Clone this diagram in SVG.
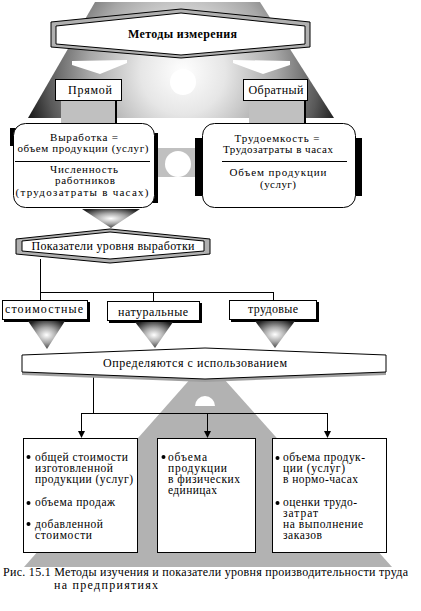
<svg xmlns="http://www.w3.org/2000/svg" width="421" height="611" viewBox="0 0 421 611" font-family="'Liberation Serif', 'Times New Roman', serif">
<defs>
<style>
.t{font-family:'Liberation Serif','Times New Roman',serif;font-size:12px;fill:#000}
.m{font-size:11px}
.s{font-size:11.5px}
.c{text-anchor:middle}
.b{font-weight:bold}
.box{fill:#fff;stroke:#000;stroke-width:1}
.ln{stroke:#000;stroke-width:1;fill:none}
.gray{fill:#c0c0c0}
.fun{fill:url(#gFun)}
.dot{fill:#000}
</style>
<radialGradient id="gTop" gradientUnits="userSpaceOnUse" cx="183" cy="72" r="170">
<stop offset="0" stop-color="#ffffff"/>
<stop offset="0.25" stop-color="#e6e6e6"/>
<stop offset="0.55" stop-color="#a8a8a8"/>
<stop offset="0.8" stop-color="#585858"/>
<stop offset="1" stop-color="#000000"/>
</radialGradient>
<radialGradient id="gFun" cx="0.5" cy="0.5" r="0.6">
<stop offset="0" stop-color="#ffffff"/>
<stop offset="0.45" stop-color="#a8a8a8"/>
<stop offset="1" stop-color="#202020"/>
</radialGradient>
<marker id="ah" markerUnits="userSpaceOnUse" markerWidth="7" markerHeight="7" refX="6" refY="3.5" orient="auto">
<path d="M0,0 L7,3.5 L0,7 z" fill="#000"/>
</marker>
</defs>

<g id="backdrop">
<polygon points="95,2 260,2 334,118 28,118" fill="url(#gTop)"/>
<polygon points="72,61 127,60 127,63 100,74 72,65" fill="#fff"/>
<polygon points="233,60 290,61 290,65 263,74 233,63" fill="#fff"/>
<circle cx="183" cy="82" r="13" fill="#fff"/>
<polygon points="207,360 392,567 24,567" fill="#b2b2b2"/>
<path d="M195,406 A10,10 0 0 1 215,406 Z" fill="#fff"/>
</g>

<g id="title">
<polygon points="51,22 181,9 310,22 310,47 181,58 51,47" fill="#b0b0b0" stroke="#000"/>
<polygon points="56,26 181,13 305,26 305,44 181,55 56,44" fill="#fff" stroke="#000"/>
<text class="t b c" x="182.5" y="38" font-size="13" textLength="109" lengthAdjust="spacing">Методы измерения</text>
</g>

<g id="direct">
<rect class="gray" x="61" y="100" width="55" height="23"/>
<line x1="116" y1="100" x2="116" y2="123" stroke="#000" stroke-width="2"/>
<rect class="box" x="55.5" y="79.5" width="66" height="21"/>
<text class="t c" x="90" y="94" textLength="44" lengthAdjust="spacing">Прямой</text>
</g>

<g id="inverse">
<rect class="gray" x="249" y="100" width="56" height="23"/>
<line x1="305" y1="100" x2="305" y2="123" stroke="#000" stroke-width="2"/>
<rect class="box" x="243.5" y="79.5" width="64" height="21"/>
<text class="t c" x="276" y="94" textLength="55" lengthAdjust="spacing">Обратный</text>
</g>

<g id="link">
<rect class="gray" x="150" y="148" width="55" height="29"/>
<circle cx="178" cy="164" r="13" fill="#fff"/>
</g>

<g id="output-formula">
<rect x="10" y="128" width="6" height="18" fill="#000"/>
<rect x="152" y="133" width="6" height="70" fill="#000"/>
<rect class="box" x="13.5" y="123.5" width="141" height="84" rx="12" ry="12"/>
<text class="t m c" x="84" y="141" textLength="68" lengthAdjust="spacing">Выработка =</text>
<text class="t m c" x="83" y="152" textLength="131" lengthAdjust="spacing">объем продукции (услуг)</text>
<line class="ln" x1="15" y1="161.5" x2="150" y2="161.5"/>
<text class="t m c" x="84" y="173" textLength="68" lengthAdjust="spacing">Численность</text>
<text class="t m c" x="85" y="184" textLength="60" lengthAdjust="spacing">работников</text>
<text class="t m c" x="82" y="195.5" textLength="133" lengthAdjust="spacing">(трудозатраты в часах)</text>
</g>

<g id="labor-formula">
<rect x="195" y="138" width="167" height="58" fill="#000"/>
<rect class="box" x="202.5" y="123.5" width="153" height="84" rx="12" ry="12"/>
<text class="t m c" x="277" y="142" textLength="85" lengthAdjust="spacing">Трудоемкость =</text>
<text class="t m c" x="278" y="153" textLength="110" lengthAdjust="spacing">Трудозатраты в часах</text>
<line class="ln" x1="222" y1="161.5" x2="347" y2="161.5"/>
<text class="t m c" x="278" y="176" textLength="97" lengthAdjust="spacing">Объем продукции</text>
<text class="t m c" x="278" y="188" textLength="36" lengthAdjust="spacing">(услуг)</text>
</g>

<g id="funnel-top">
<polygon class="fun" points="82,209 140,209 111,228"/>
</g>

<g id="indicators">
<polygon points="16,239 110,229 210,239 210,254 110,263 16,254" fill="#b0b0b0" stroke="#000"/>
<polygon points="22,241 110,232 204,241 204,251 110,259 22,251" fill="#fff" stroke="#000"/>
<text class="t c" x="113" y="250" textLength="163" lengthAdjust="spacing">Показатели уровня выработки</text>
</g>

<g id="connectors">
<polyline class="ln" points="40.5,259 40.5,292.5 273.5,292.5"/>
<line class="ln" x1="40.5" y1="292" x2="40.5" y2="300"/>
<line class="ln" x1="153.5" y1="292" x2="153.5" y2="301"/>
<line class="ln" x1="273.5" y1="292" x2="273.5" y2="300"/>
<line class="ln" x1="93.5" y1="377" x2="93.5" y2="413.5"/>
<line class="ln" x1="81" y1="413.5" x2="328" y2="413.5"/>
<line class="ln" x1="81.5" y1="413" x2="81.5" y2="437" marker-end="url(#ah)"/>
<line class="ln" x1="207.5" y1="413" x2="207.5" y2="437" marker-end="url(#ah)"/>
<line class="ln" x1="327.5" y1="413" x2="327.5" y2="437" marker-end="url(#ah)"/>
</g>

<g id="cost">
<rect x="4" y="302" width="86" height="20" fill="#000"/>
<rect class="box" x="2.5" y="300.5" width="85" height="19"/>
<text class="t c" x="44" y="313" textLength="78" lengthAdjust="spacing">стоимостные</text>
<polygon class="fun" points="28,321 65,321 47,349"/>
</g>

<g id="natural">
<rect x="109" y="303" width="93" height="20" fill="#000"/>
<rect class="box" x="107.5" y="301.5" width="92" height="19"/>
<text class="t c" x="153" y="316" textLength="70" lengthAdjust="spacing">натуральные</text>
<polygon class="fun" points="135,322 173,322 155,348"/>
</g>

<g id="labor">
<rect x="231" y="302" width="88" height="20" fill="#000"/>
<rect class="box" x="229.5" y="300.5" width="87" height="19"/>
<text class="t c" x="273" y="313" textLength="50" lengthAdjust="spacing">трудовые</text>
<polygon class="fun" points="255,321 295,321 275,348"/>
</g>

<g id="determined">
<polygon points="22,358 205,351 386,358 386,375 205,382 22,375" fill="#a0a0a0"/>
<polygon points="22,355 205,348 386,355 386,372 205,379 22,372" fill="#fff" stroke="#000"/>
<text class="t c" x="195" y="367" textLength="184" lengthAdjust="spacing">Определяются с использованием</text>
</g>

<g id="cost-list">
<rect class="box" x="23.5" y="438.5" width="114" height="114"/>
<circle class="dot" cx="28.5" cy="457" r="2"/>
<circle class="dot" cx="28.5" cy="503" r="2"/>
<circle class="dot" cx="28.5" cy="524" r="2"/>
<text class="t s" x="35" y="461" textLength="93" lengthAdjust="spacing">общей стоимости</text>
<text class="t s" x="35" y="472" textLength="78" lengthAdjust="spacing">изготовленной</text>
<text class="t s" x="35" y="483" textLength="98" lengthAdjust="spacing">продукции (услуг)</text>
<text class="t s" x="35" y="506" textLength="80" lengthAdjust="spacing">объема продаж</text>
<text class="t s" x="35" y="528" textLength="68" lengthAdjust="spacing">добавленной</text>
<text class="t s" x="35" y="539" textLength="57" lengthAdjust="spacing">стоимости</text>
</g>

<g id="natural-list">
<rect class="box" x="157.5" y="438.5" width="98" height="114"/>
<circle class="dot" cx="163.5" cy="457" r="2"/>
<text class="t s" x="168" y="461" textLength="39" lengthAdjust="spacing">объема</text>
<text class="t s" x="168" y="472" textLength="59" lengthAdjust="spacing">продукции</text>
<text class="t s" x="168" y="483" textLength="72" lengthAdjust="spacing">в физических</text>
<text class="t s" x="168" y="494" textLength="49" lengthAdjust="spacing">единицах</text>
</g>

<g id="labor-list">
<rect class="box" x="272.5" y="438.5" width="114" height="114"/>
<circle class="dot" cx="277.5" cy="458" r="2"/>
<circle class="dot" cx="277.5" cy="503" r="2"/>
<text class="t s" x="283" y="461" textLength="82" lengthAdjust="spacing">объема продук-</text>
<text class="t s" x="283" y="472" textLength="62" lengthAdjust="spacing">ции (услуг)</text>
<text class="t s" x="283" y="483" textLength="75" lengthAdjust="spacing">в нормо-часах</text>
<text class="t s" x="283" y="506" textLength="74" lengthAdjust="spacing">оценки трудо-</text>
<text class="t s" x="283" y="517" textLength="35" lengthAdjust="spacing">затрат</text>
<text class="t s" x="283" y="528" textLength="80" lengthAdjust="spacing">на выполнение</text>
<text class="t s" x="283" y="539" textLength="39" lengthAdjust="spacing">заказов</text>
</g>

<g id="caption">
<text class="t" x="3" y="576" font-size="11.5" textLength="405" lengthAdjust="spacing">Рис. 15.1 Методы изучения и показатели уровня производительности труда</text>
<text class="t" x="54" y="588.5" font-size="11.5" textLength="104" lengthAdjust="spacing">на предприятиях</text>
</g>
</svg>
